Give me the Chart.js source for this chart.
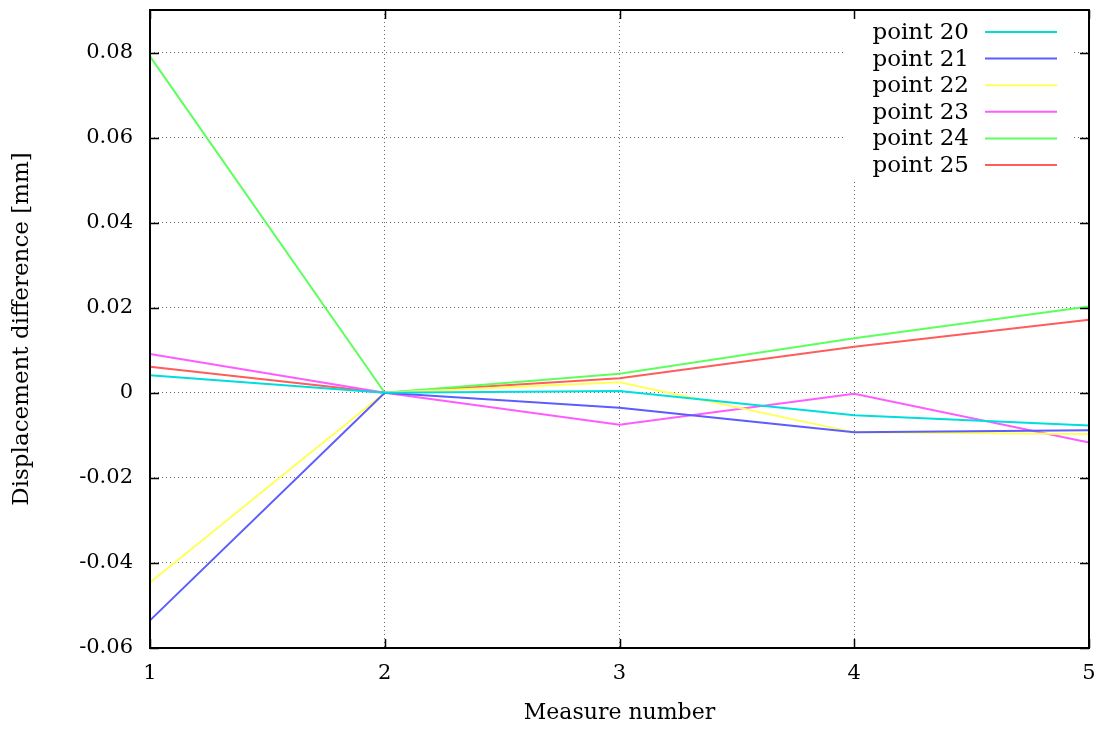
<!DOCTYPE html>
<html>
<head>
<meta charset="utf-8">
<script src="https://cdn.jsdelivr.net/npm/chart.js@4.4.1/dist/chart.umd.min.js"></script>
<style>
  html, body { margin: 0; padding: 0; background: #fff; }
  #wrap { width: 1103px; height: 729px; position: relative; }
</style>
</head>
<body>
<div id="wrap"><canvas id="chart"></canvas></div>
<script>
// Valores (diferencia de desplazamiento, mm)
const measures = ['1', '2', '3', '4', '5'];
const seriesLabels = ['point 20', 'point 21', 'point 22', 'point 23', 'point 24', 'point 25'];
const point20 = [0.0041, 0, 0.0004, -0.0053, -0.0077];
const point21 = [-0.0535, 0, -0.0035, -0.0093, -0.0088];
const point22 = [-0.0446, 0, 0.0025, -0.0093, -0.0097];
const point23 = [0.0091, 0, -0.0075, -0.0002, -0.0117];
const point24 = [0.0791, 0, 0.0045, 0.0128, 0.0203];
const point25 = [0.0061, 0, 0.0034, 0.0108, 0.0172];
const yTicks = [-0.06, -0.04, -0.02, 0, 0.02, 0.04, 0.06, 0.08];

const colors = ['#00dddd', '#5c5cff', '#ffff5c', '#ff5cff', '#5cff5c', '#ff5c5c'];
const seriesValues = [point20, point21, point22, point23, point24, point25];
const FONT = "'DejaVu Serif', serif";

// marco, marcas de escala hacia dentro y leyenda estilo gnuplot
const gnuplotFrame = {
    id: 'gnuplotFrame',
    afterDraw(chart) {
        const ctx = chart.ctx;
        const a = chart.chartArea;
        const xs = chart.scales.x;
        const ys = chart.scales.y;

        // fondo de la leyenda
        ctx.save();
        ctx.fillStyle = '#fff';
        ctx.fillRect(a.right - 246, a.top + 1, 228, 169);

        // entradas de la leyenda
        ctx.font = '23px ' + FONT;
        ctx.textAlign = 'right';
        ctx.textBaseline = 'middle';
        chart.data.datasets.forEach((ds, i) => {
            const y = a.top + 22 + i * 26.6;
            ctx.fillStyle = '#000';
            ctx.fillText(ds.label, a.right - 120, y + 1);
            ctx.strokeStyle = ds.borderColor;
            ctx.lineWidth = 2;
            ctx.beginPath();
            ctx.moveTo(a.right - 104, y);
            ctx.lineTo(a.right - 32, y);
            ctx.stroke();
        });

        // marco
        ctx.strokeStyle = '#000';
        ctx.lineWidth = 2;
        ctx.strokeRect(a.left, a.top, a.right - a.left, a.bottom - a.top);

        // marcas
        ctx.lineWidth = 1.5;
        ctx.beginPath();
        yTicks.forEach(v => {
            const py = Math.round(ys.getPixelForValue(v)) + 0.5;
            ctx.moveTo(a.left, py); ctx.lineTo(a.left + 9, py);
            ctx.moveTo(a.right, py); ctx.lineTo(a.right - 9, py);
        });
        measures.forEach((m, i) => {
            const px = Math.round(xs.getPixelForValue(i)) + 0.5;
            ctx.moveTo(px, a.bottom); ctx.lineTo(px, a.bottom - 9);
            ctx.moveTo(px, a.top); ctx.lineTo(px, a.top + 9);
        });
        ctx.stroke();
        ctx.restore();
    }
};

const ctx = document.getElementById('chart').getContext('2d');

new Chart(ctx, {
    type: 'line',
    data: {
        labels: measures,
        datasets: seriesValues.map((vals, i) => ({
            label: seriesLabels[i],
            data: vals,
            borderColor: colors[i],
            backgroundColor: colors[i],
            borderWidth: 2,
            pointRadius: 0,
            tension: 0,
            fill: false
        }))
    },
    options: {
        responsive: true,
        maintainAspectRatio: false,
        animation: false,
        layout: { padding: { left: 0, right: 14, top: 10, bottom: 0 } },
        plugins: {
            legend: { display: false },
            tooltip: { enabled: false }
        },
        scales: {
            x: {
                type: 'category',
                offset: false,
                afterFit: (scale) => {
                    scale.height = 81;
                    scale.paddingLeft = 0;
                    scale.paddingRight = 0;
                },
                grid: { color: '#666', lineWidth: 1, drawTicks: false },
                border: { display: false, dash: [1, 3] },
                ticks: { color: '#000', padding: 13, font: { family: FONT, size: 21 } },
                title: {
                    display: true,
                    text: 'Measure number',
                    color: '#000',
                    font: { family: FONT, size: 22 },
                    padding: { top: 4, bottom: 3 }
                }
            },
            y: {
                min: -0.06,
                max: 0.09,
                afterFit: (scale) => {
                    scale.width = 150;
                    scale.paddingTop = 0;
                    scale.paddingBottom = 0;
                },
                afterBuildTicks: (scale) => { scale.ticks = yTicks.map(v => ({ value: v })); },
                grid: { color: '#666', lineWidth: 1, drawTicks: false },
                border: { display: false, dash: [1, 3] },
                ticks: {
                    color: '#000',
                    padding: 17,
                    font: { family: FONT, size: 21 },
                    callback: (v) => (Math.abs(v) < 1e-9 ? '0' : Number(v).toFixed(2))
                },
                title: {
                    display: true,
                    text: 'Displacement difference [mm]',
                    color: '#000',
                    font: { family: FONT, size: 23 },
                    padding: { top: 8, bottom: 4 }
                }
            }
        }
    },
    plugins: [gnuplotFrame]
});
</script>
</body>
</html>
